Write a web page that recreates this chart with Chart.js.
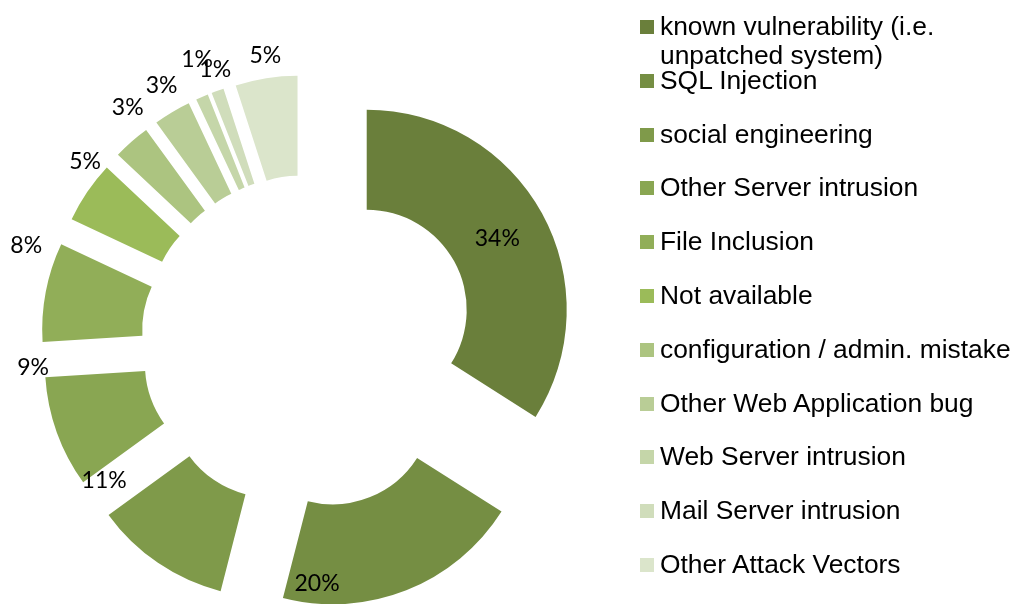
<!DOCTYPE html>
<html>
<head>
<meta charset="utf-8">
<script src="https://cdn.jsdelivr.net/npm/chart.js@4.4.1/dist/chart.umd.min.js"></script>
<style>
  html, body { margin: 0; padding: 0; background: #fff; }
  #wrap { position: relative; width: 1016px; height: 604px; overflow: hidden; }
  #attackChart { position: absolute; left: 0; top: 0; }
  #legend {
    position: absolute; left: 640px; top: 12px;
    font-family: "Liberation Sans", Arial, sans-serif; font-size: 26.4px; color: #000;
  }
  .item { position: relative; height: 53.8px; padding-left: 20px; line-height: 29px; white-space: pre; }
  .item .box { position: absolute; left: 0; top: 8px; width: 14px; height: 14px; }
</style>
</head>
<body>
<div id="wrap">
  <canvas id="attackChart" width="1016" height="604"></canvas>
  <div id="legend"></div>
</div>
<script>
const categories = [
  'known vulnerability (i.e.\nunpatched system)',
  'SQL Injection',
  'social engineering',
  'Other Server intrusion',
  'File Inclusion',
  'Not available',
  'configuration / admin. mistake',
  'Other Web Application bug',
  'Web Server intrusion',
  'Mail Server intrusion',
  'Other Attack Vectors'
];
const shares = [34, 20, 11, 9, 8, 5, 3, 3, 1, 1, 5];
const sliceColors = [
  '#6a7f3b', '#758e43', '#7f9a4a', '#89a652', '#91ae58', '#9bbb59',
  '#acc480', '#b9cd96', '#c5d6a9', '#d0ddbb', '#dbe5cb'
];
// where each percentage sits: fraction along its slice, distance from the centre
const labelSpots = [
  [0.50, 216], [0.77, 241], [1.05, 246], [0.95, 276], [0.785, 298], [0.77, 287],
  [0.86, 296], [0.59, 296], [1.06, 304], [0.78, 288], [0.53, 290]
];

const EXPLODE = 67;

// every slice is pushed out from the centre along its middle angle
const explodePlugin = {
  id: 'explode',
  beforeDatasetDraw(chart, args) {
    const ctx = chart.ctx;
    args.meta.data.forEach(arc => {
      const mid = (arc.startAngle + arc.endAngle) / 2;
      ctx.save();
      ctx.translate(Math.cos(mid) * EXPLODE, Math.sin(mid) * EXPLODE);
      arc.draw(ctx);
      ctx.restore();
    });
    return false;
  }
};

const pctLabels = {
  id: 'pctLabels',
  afterDatasetsDraw(chart) {
    const ctx = chart.ctx;
    const meta = chart.getDatasetMeta(0);
    ctx.save();
    ctx.font = '23px Lato, "Open Sans", sans-serif';
    ctx.fillStyle = '#000';
    ctx.textAlign = 'center';
    ctx.textBaseline = 'alphabetic';
    meta.data.forEach((arc, i) => {
      const [f, dist] = labelSpots[i];
      const a = arc.startAngle + f * (arc.endAngle - arc.startAngle);
      const x = arc.x + Math.cos(a) * dist;
      const y = arc.y + Math.sin(a) * dist;
      ctx.fillText(shares[i] + '%', x, y + 8);
    });
    ctx.restore();
  }
};

new Chart(document.getElementById('attackChart'), {
  type: 'doughnut',
  data: {
    labels: categories,
    datasets: [{
      data: shares,
      backgroundColor: sliceColors,
      borderWidth: 0
    }]
  },
  options: {
    responsive: false,
    animation: false,
    events: [],
    radius: 200,
    cutout: '50%',
    layout: { padding: { left: 0, right: 400, top: 80, bottom: 0 } },
    plugins: {
      legend: { display: false },
      tooltip: { enabled: false }
    }
  },
  plugins: [explodePlugin, pctLabels]
});

const legend = document.getElementById('legend');
categories.forEach((name, i) => {
  const row = document.createElement('div');
  row.className = 'item';
  const box = document.createElement('span');
  box.className = 'box';
  box.style.background = sliceColors[i];
  row.appendChild(box);
  row.appendChild(document.createTextNode(name));
  legend.appendChild(row);
});
</script>
</body>
</html>
